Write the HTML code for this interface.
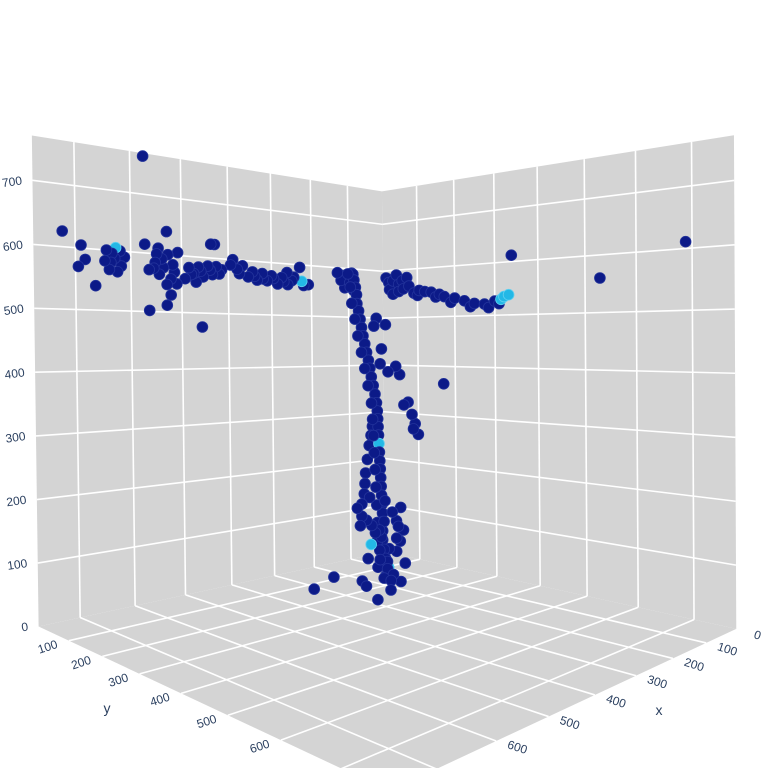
<!DOCTYPE html>
<html><head><meta charset="utf-8">
<style>
html,body{margin:0;padding:0;background:#fff;}
svg{display:block;font-family:"Liberation Sans",sans-serif;}
</style></head>
<body>
<svg id="chart" width="768" height="768" viewBox="0 0 768 768" xmlns="http://www.w3.org/2000/svg">
  <g id="walls"></g>
  <g id="grid"></g>
  <g id="ticks"></g>
  <g id="points"></g>
  <text x="107" y="713" font-size="14" fill="#2a3f5f" text-anchor="middle">y</text>
  <text x="659" y="715" font-size="14" fill="#2a3f5f" text-anchor="middle">x</text>
</svg>
<script>
const XM = 770, YM = 770, ZM = 770;
const tickVals = [100, 200, 300, 400, 500, 600, 700];
const xTickLabels = ["0","100","200","300","400","500","600"];
const yTickLabels = ["100","200","300","400","500","600"];
const zTickLabels = ["0","100","200","300","400","500","600","700"];

// data series
const xs = [722,690,695,683,665,645,620,637,618,640,628,630,625,573,530,565,530,458,438,430,
547,528,556,537,518,522,510,522,553,565,508,540,
485,465,445,427,493,455,415,470,475,435,
390,368,345,322,300,275,250,225,208,380,334,262,230,355,310,285,575,
106,100,95,110,120,
0,0,0,0,0,0,0,0,0,0,0,0,0,0,0,0,0,0,0,0,0,0,0,0,0,
106,104,105,106,108,108,109,110,111,118,126,134,142,150,158,167,177,185,196,
105,104,105,107,108,108,110,110,114,122,130,138,146,154,162,172,181,190,
123,142,162,171,132,152,166,
80,64,87,86,90,78,66,55,35,64,52,62,53,44,58,
251,228,206,183,161,138,195,172,150,217,244,131,127,204,217,185,160,200,175,150,
227,312,280,209,230,
120,118,119,120,122,122,123,124,125,132,140,148,156,164,172,181,191,199,
120,130,110,95,
0,0,0,0,0,0,0,0,0,0,
635,612,648,545,530,515,550,480,460,440,420,
395,375,340,320,295,270,245,220,260,
240,215,190,170,150,140,225,200,180,160,190,210,230];
const ys = [0,0,0,0,0,0,0,0,0,0,0,0,0,0,0,0,0,0,0,0,
0,0,0,0,0,0,0,0,0,0,0,0,
0,0,0,0,0,0,0,0,0,0,
0,0,0,0,0,0,0,0,0,0,0,0,0,0,0,0,0,
20,10,5,15,0,
18,47,76,105,138,173,200,225,250,275,300,322,333,30,57,47,90,30,120,160,10,315,340,530,689,
20,25,30,40,50,60,70,80,90,100,110,120,130,140,150,160,170,185,210,
22,28,35,45,55,65,75,85,95,105,115,125,135,145,155,165,178,195,
90,100,110,115,95,105,112,
60,70,60,80,80,90,100,100,200,120,120,140,140,140,140,
180,180,180,180,180,180,180,180,180,180,180,180,180,200,230,190,190,185,175,185,
88,129,260,147,180,
20,25,30,40,50,60,70,80,90,100,110,120,130,140,150,160,170,185,
0,0,0,10,
60,100,150,190,240,285,310,20,70,40,
0,0,0,0,0,0,0,0,0,0,0,
0,0,0,0,0,0,0,0,0,
180,180,180,180,180,180,180,180,180,200,210,170,170];
const zs = [625,605,570,582,540,600,600,580,575,568,605,587,565,615,640,502,512,475,625,625,
610,600,575,577,583,558,550,530,585,572,605,592,
580,582,585,585,560,565,580,555,570,570,
600,590,580,578,575,573,568,568,562,583,565,583,595,570,565,560,765,
587,590,575,570,585,
575,570,565,555,550,540,536,530,524,522,527,535,538,578,577,555,550,550,552,545,585,530,612,560,611,
587,560,527,495,461,428,396,362,328,297,266,234,203,171,139,108,76,45,10,
575,545,512,478,445,412,379,345,312,282,250,218,187,155,123,92,60,28,
282,246,195,156,265,220,175,
497,484,481,435,405,389,400,383,367,323,328,305,286,264,276,
146,121,95,113,128,134,61,25,52,75,113,90,26,14,0,40,80,100,150,100,
0,0,0,0,0,
587,560,527,495,461,428,396,362,328,297,266,234,203,171,139,108,76,45,
575,590,560,555,
560,545,540,528,518,515,522,560,583,590,
595,590,582,565,548,570,600,568,575,578,572,
590,575,572,568,570,565,575,560,560,
130,110,85,60,110,70,50,30,10,0,20,160,150];
const vals = [0.1,0.1,0.1,0.1,0.1,0.1,0.1,0.1,0.1,0.1,0.5,0.1,0.1,0.1,0.1,0.1,0.1,0.1,0.1,0.1,
0.1,0.1,0.1,0.1,0.1,0.1,0.1,0.1,0.1,0.1,0.1,0.1,
0.1,0.1,0.1,0.1,0.1,0.1,0.1,0.1,0.1,0.1,
0.1,0.1,0.1,0.1,0.1,0.1,0.1,0.45,0.1,0.1,0.1,0.1,0.1,0.1,0.1,0.1,0.1,
0.1,0.1,0.1,0.1,0.1,
0.1,0.1,0.1,0.1,0.1,0.1,0.1,0.1,0.1,0.1,0.1,0.5,0.5,0.1,0.1,0.1,0.1,0.1,0.1,0.1,0.1,0.5,0.1,0.1,0.1,
0.1,0.1,0.1,0.1,0.1,0.1,0.1,0.1,0.1,0.1,0.1,0.1,0.1,0.1,0.1,0.1,0.1,0.1,0.1,
0.1,0.1,0.1,0.1,0.1,0.1,0.1,0.1,0.1,0.1,0.45,0.1,0.1,0.1,0.1,0.1,0.1,0.1,
0.1,0.1,0.1,0.1,0.1,0.1,0.1,
0.1,0.1,0.1,0.1,0.1,0.1,0.1,0.1,0.1,0.1,0.1,0.1,0.1,0.1,0.1,
0.1,0.1,0.1,0.1,0.1,0.1,0.1,0.5,0.1,0.45,0.1,0.1,0.1,0.1,0.1,0.1,0.1,0.1,0.1,0.1,
0.1,0.1,0.1,0.1,0.1,
0.1,0.1,0.1,0.1,0.1,0.1,0.1,0.1,0.1,0.1,0.1,0.1,0.1,0.1,0.1,0.1,0.1,0.1,
0.1,0.1,0.1,0.1,
0.1,0.1,0.1,0.1,0.1,0.1,0.1,0.1,0.1,0.1,
0.1,0.1,0.1,0.1,0.1,0.1,0.1,0.1,0.1,0.1,0.1,
0.1,0.1,0.1,0.1,0.1,0.1,0.1,0.1,0.1,
0.1,0.1,0.1,0.1,0.1,0.1,0.1,0.1,0.1,0.1,0.1,0.1,0.1];

// ---- camera fit (normalized cube coords -> screen) ----
const corr = [
  [1,0,1, 32,135],[0,0,1, 383,192],[0,1,1, 735,135],
  [1,0,0, 41,626],[0,0,0, 383,553],[0,1,0, 739,627],[1,1,0, 388,792],
  [1,0,500/770, 33,309],[0,0,500/770, 383,317],[0,1,500/770, 733,310],
  [1,0,700/770, 32,180],[0,0,700/770, 383,224],[0,1,700/770, 733,181]
];
function fit(){
  const A=[],b=[];
  corr.forEach(c=>{const [X,Y,Z,u,v]=c;
    A.push([X,Y,Z,1,0,0,0,0,-u*X,-u*Y,-u*Z]);b.push(u);
    A.push([0,0,0,0,X,Y,Z,1,-v*X,-v*Y,-v*Z]);b.push(v);});
  const n=11,M=[];
  for(let i=0;i<n;i++){M.push([]);for(let j=0;j<=n;j++){let s=0;
    for(let k=0;k<A.length;k++)s+=A[k][i]*(j<n?A[k][j]:b[k]);M[i].push(s);}}
  for(let i=0;i<n;i++){let p=i;for(let r=i+1;r<n;r++)if(Math.abs(M[r][i])>Math.abs(M[p][i]))p=r;
    [M[i],M[p]]=[M[p],M[i]];
    for(let r=0;r<n;r++){if(r===i)continue;const f=M[r][i]/M[i][i];
      for(let j=i;j<=n;j++)M[r][j]-=f*M[i][j];}}
  return M.map((row,i)=>row[n]/row[i]);
}
const P = fit();
function proj(x,y,z){const X=x/XM,Y=y/YM,Z=z/ZM;
  const d=P[8]*X+P[9]*Y+P[10]*Z+1;
  return [(P[0]*X+P[1]*Y+P[2]*Z+P[3])/d,(P[4]*X+P[5]*Y+P[6]*Z+P[7])/d];}

const NS="http://www.w3.org/2000/svg";
function mk(tag,attrs,parent){const e=document.createElementNS(NS,tag);
  for(const k in attrs)e.setAttribute(k,attrs[k]);parent.appendChild(e);return e;}
const gW=document.getElementById('walls'),gG=document.getElementById('grid'),
      gT=document.getElementById('ticks'),gP=document.getElementById('points');

function poly(pts,name){const e=mk('polygon',{points:pts.map(p=>proj(...p).join(',')).join(' '),fill:'#d4d4d4'},gW);
  
  }
poly([[XM,0,0],[0,0,0],[0,0,ZM],[XM,0,ZM]],'left-wall');
poly([[0,0,0],[0,YM,0],[0,YM,ZM],[0,0,ZM]],'right-wall');
poly([[0,0,0],[XM,0,0],[XM,YM,0],[0,YM,0]],'floor');

function line(a,b,name){const p=proj(...a),q=proj(...b);
  const e=mk('line',{x1:p[0],y1:p[1],x2:q[0],y2:q[1],stroke:'#fff','stroke-width':1.6},gG);
  
  }
tickVals.forEach(t=>{
  line([t,0,0],[t,0,ZM],'left-wall-gridline');
  line([0,0,t],[XM,0,t],'left-wall-gridline');
  line([0,t,0],[0,t,ZM],'right-wall-gridline');
  line([0,0,t],[0,YM,t],'right-wall-gridline');
  line([t,0,0],[t,YM,0],'floor-gridline');
  line([0,t,0],[XM,t,0],'floor-gridline');
});

function label(txt,x,y,rot,anchor,name){
  const e=mk('text',{x:x,y:y,'font-size':12,fill:'#2a3f5f','text-anchor':anchor,
    transform:`rotate(${rot} ${x} ${y})`},gT);
  e.textContent=txt;
  
  }
zTickLabels.forEach((s,i)=>{const p=proj(XM,0,i*100);label(s,p[0]-10,p[1]+4,-8,'end','z-tick-label');});
xTickLabels.forEach((s,i)=>{const p=proj(i*100,YM,0);label(s,p[0]+20,p[1]+10,18,'middle','x-tick-label');});
yTickLabels.forEach((s,i)=>{const p=proj(XM,(i+1)*100,0);label(s,p[0]-20,p[1]+10,-18,'middle','y-tick-label');});

const order=xs.map((_,i)=>i).sort((a,b)=>(xs[a]+ys[a])-(xs[b]+ys[b]));
order.forEach(i=>{const p=proj(xs[i],ys[i],zs[i]);
  const hi=vals[i]>0.3;
  const c=mk('circle',{cx:p[0].toFixed(1),cy:p[1].toFixed(1),r:5.4,
    fill:hi?'#23b8e6':'#0c1a88',stroke:hi?'#5fd0f0':'#22329a','stroke-width':0.8},gP);
  
  
});
</script>
</body></html>
